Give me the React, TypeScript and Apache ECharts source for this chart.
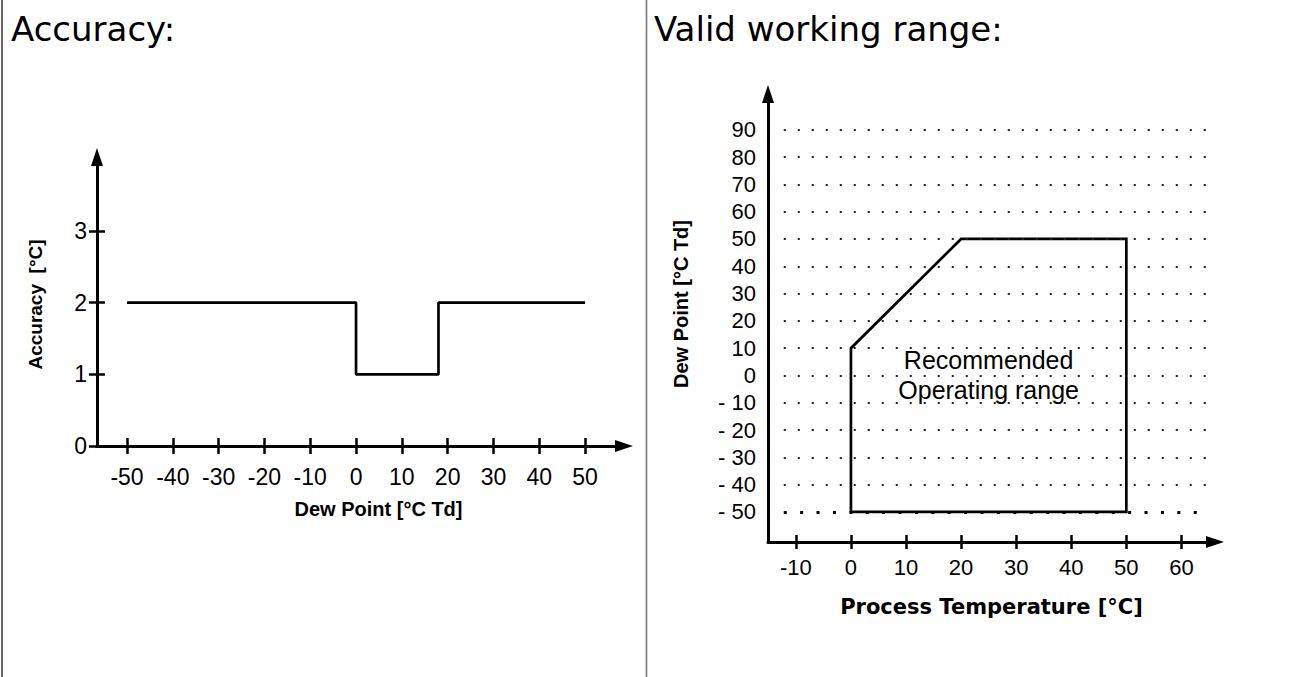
import React, { useEffect, useRef } from "react";
import * as echarts from "echarts";

// ---- Accuracy chart data ----
const accDewPoint = [-50, 0, 0, 18, 18, 50];
const accAccuracy = [2, 2, 1, 1, 2, 2];
const accXTicks = [-50, -40, -30, -20, -10, 0, 10, 20, 30, 40, 50];
const accYTicks = [0, 1, 2, 3];

// ---- Valid working range data ----
const rangeProcessTemp = [0, 0, 20, 50, 50, 0];
const rangeDewPoint = [-50, 10, 50, 50, -50, -50];
const rangeXTicks = [-10, 0, 10, 20, 30, 40, 50, 60];
const rangeYTicks = [-50, -40, -30, -20, -10, 0, 10, 20, 30, 40, 50, 60, 70, 80, 90];
const dottedRows = [-40, -30, -20, -10, 0, 10, 20, 30, 40, 50, 60, 70, 80, 90];
const boldDottedRow = -50;
const dottedSpan = [-12.2, 64.6];
const regionLabel = "Recommended\nOperating range";
const regionLabelAt = [25, 0];

const ARIAL = "'Liberation Sans', Arial, sans-serif";
const VERDANA = "'DejaVu Sans', Verdana, sans-serif";

export default function App() {
  const ref = useRef<HTMLDivElement>(null);

  useEffect(() => {
    if (!ref.current) return;
    const chart = echarts.init(ref.current, null, { renderer: "svg" });

    const axisLine = (w: number) => ({
      show: true,
      onZero: false,
      symbol: ["none", "triangle"],
      symbolSize: [12, 18],
      lineStyle: { color: "#000", width: w },
    });

    const hiddenTickAxis = (gridIndex: number, min: number, max: number, ticks: number[], len: number, pos: string) => ({
      type: "value",
      gridIndex,
      position: pos,
      min,
      max,
      axisLine: { show: false, onZero: false },
      axisTick: { show: true, inside: true, customValues: ticks, length: len, lineStyle: { color: "#000", width: 2.5 } },
      axisLabel: { show: false },
      splitLine: { show: false },
    });

    const option: any = {
      animation: false,
      backgroundColor: "#fff",
      grid: [
        { left: 97, top: 157, width: 527, height: 289, containLabel: false, outerBoundsMode: "none" },
        { left: 768, top: 94, width: 447, height: 448, containLabel: false, outerBoundsMode: "none" },
      ],
      xAxis: [
        {
          type: "value",
          gridIndex: 0,
          position: "bottom",
          min: -56.55,
          max: 58.5,
          axisLine: axisLine(3),
          axisTick: { show: true, customValues: accXTicks, length: 8, lineStyle: { color: "#000", width: 2.5 } },
          axisLabel: { customValues: accXTicks, color: "#000", fontSize: 23, fontFamily: ARIAL, margin: 19 },
          splitLine: { show: false },
          name: "Dew Point [°C Td]",
          nameLocation: "middle",
          nameGap: 53,
          nameTextStyle: { color: "#000", fontSize: 20, fontWeight: "bold", fontFamily: ARIAL, padding: [0, 0, 0, 36] },
        },
        hiddenTickAxis(0, -56.55, 58.5, accXTicks, 8, "bottom"),
        {
          type: "value",
          gridIndex: 1,
          position: "bottom",
          min: -15.06,
          max: 66.1,
          axisLine: axisLine(3),
          axisTick: { show: true, customValues: rangeXTicks, length: 7, lineStyle: { color: "#000", width: 2.5 } },
          axisLabel: { customValues: rangeXTicks, color: "#000", fontSize: 22, fontFamily: ARIAL, margin: 14 },
          splitLine: { show: false },
          name: "Process Temperature [°C]",
          nameLocation: "middle",
          nameGap: 54,
          nameTextStyle: { color: "#000", fontSize: 21, fontWeight: "bold", fontFamily: VERDANA },
        },
        hiddenTickAxis(1, -15.06, 66.1, rangeXTicks, 7, "bottom"),
      ],
      yAxis: [
        {
          type: "value",
          gridIndex: 0,
          position: "left",
          min: 0,
          max: 4.03,
          axisLine: axisLine(3),
          axisTick: { show: true, customValues: accYTicks, length: 8, lineStyle: { color: "#000", width: 2.5 } },
          axisLabel: { customValues: accYTicks, color: "#000", fontSize: 23, fontFamily: ARIAL, margin: 10 },
          splitLine: { show: false },
          name: "Accuracy  [°C]",
          nameLocation: "middle",
          nameGap: 52,
          nameTextStyle: { color: "#000", fontSize: 19, fontWeight: "bold", fontFamily: ARIAL, padding: [0, 6, 0, 0] },
        },
        hiddenTickAxis(0, 0, 4.03, accYTicks, 8, "left"),
        {
          type: "value",
          gridIndex: 1,
          position: "left",
          min: -61,
          max: 103.1,
          axisLine: axisLine(3),
          axisTick: { show: false },
          axisLabel: {
            customValues: rangeYTicks,
            color: "#000",
            fontSize: 22,
            fontFamily: ARIAL,
            margin: 12,
            formatter: (v: number) => (v < 0 ? "- " + Math.abs(v) : String(v)),
          },
          splitLine: { show: false },
          name: "Dew Point [°C Td]",
          nameLocation: "middle",
          nameGap: 77,
          nameTextStyle: { color: "#000", fontSize: 20, fontWeight: "bold", fontFamily: ARIAL, padding: [0, 0, 0, 28] },
        },
      ],
      series: [
        {
          type: "line",
          xAxisIndex: 0,
          yAxisIndex: 0,
          data: accDewPoint.map((x, i) => [x, accAccuracy[i]]),
          showSymbol: false,
          symbol: "none",
          lineStyle: { color: "#000", width: 2.7 },
          z: 3,
        },
        {
          type: "line",
          xAxisIndex: 2,
          yAxisIndex: 2,
          data: [],
          z: 1,
          markLine: {
            silent: true,
            symbol: ["none", "none"],
            label: { show: false },
            data: [
              ...dottedRows.map((r) => [
                { coord: [dottedSpan[0], r], lineStyle: { color: "#222", width: 2, type: [2, 12] } },
                { coord: [dottedSpan[1], r] },
              ]),
              [
                { coord: [dottedSpan[0], boldDottedRow], lineStyle: { color: "#000", width: 3, type: [3, 13.4] } },
                { coord: [dottedSpan[1], boldDottedRow] },
              ],
            ],
          },
        },
        {
          type: "line",
          xAxisIndex: 2,
          yAxisIndex: 2,
          data: rangeProcessTemp.map((x, i) => [x, rangeDewPoint[i]]),
          showSymbol: false,
          symbol: "none",
          lineStyle: { color: "#000", width: 2.7, join: "miter" },
          z: 3,
        },
        {
          type: "scatter",
          xAxisIndex: 2,
          yAxisIndex: 2,
          data: [regionLabelAt],
          symbolSize: 0,
          itemStyle: { opacity: 1, color: "#000" },
          z: 4,
          label: {
            show: true,
            position: "inside",
            formatter: regionLabel,
            color: "#000",
            opacity: 1,
            fontSize: 25,
            lineHeight: 30,
            fontFamily: ARIAL,
            align: "center",
          },
        },
      ],
      graphic: [
        { type: "line", shape: { x1: 2, y1: 0, x2: 2, y2: 677 }, style: { stroke: "#666", lineWidth: 2 } },
        { type: "line", shape: { x1: 646.5, y1: 0, x2: 646.5, y2: 677 }, style: { stroke: "#777", lineWidth: 1.6 } },
        {
          type: "text",
          x: 11,
          y: 29,
          style: { text: "Accuracy:", font: `34px ${VERDANA}`, fill: "#000", verticalAlign: "middle", align: "left" },
        },
        {
          type: "text",
          x: 654,
          y: 29,
          style: { text: "Valid working range:", font: `34px ${VERDANA}`, fill: "#000", verticalAlign: "middle", align: "left" },
        },
      ],
    };

    chart.setOption(option);
    return () => chart.dispose();
  }, []);

  return <div ref={ref} style={{ position: "absolute", left: 0, top: 0, width: 1289, height: 677 }} />;
}
